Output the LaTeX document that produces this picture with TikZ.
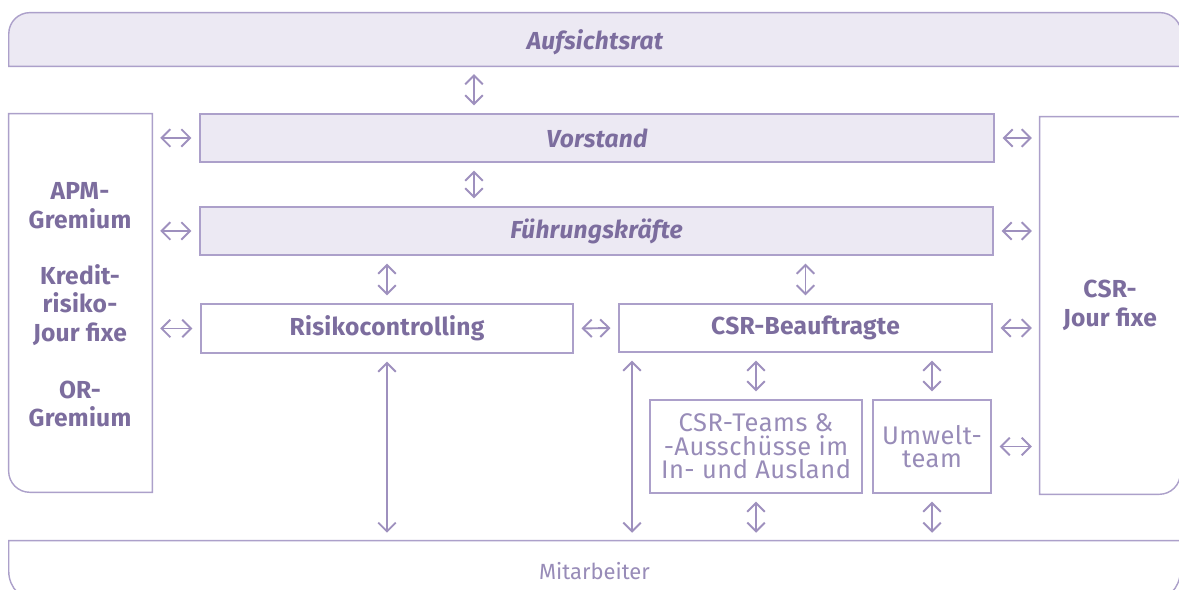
\documentclass[tikz,border=0pt]{standalone}
\usepackage{fontspec}
\setmainfont{Fira Sans}
\newfontfamily\widefont[LetterSpace=1]{Fira Sans}
\newfontfamily\airyfont[LetterSpace=2]{Fira Sans}
\usetikzlibrary{positioning, arrows.meta, backgrounds}

\definecolor{lila}{RGB}{124,109,158}
\definecolor{lilaline}{RGB}{172,160,202}
\definecolor{lilafill}{RGB}{236,233,243}
\definecolor{lilatext}{RGB}{152,140,184}
\definecolor{lilaarrow}{RGB}{158,144,190}

\newcommand{\boldfont}{\widefont\fontsize{14}{16.4}\selectfont\bfseries}
\newcommand{\itbfont}{\widefont\fontsize{14}{16.4}\selectfont\bfseries\itshape}
\newcommand{\plainfont}{\airyfont\fontsize{14.5}{13.4}\selectfont}

\begin{document}
\begin{tikzpicture}[x=0.02cm, y=0.02cm,
  frame/.style={rectangle, inner sep=0pt, text=lila, font=\boldfont, align=center},
  box/.style={frame, draw=lilaline, line width=0.8pt},
  bar/.style={box, fill=lilafill, font=\itbfont},
  softbox/.style={box, text=lilatext, font=\plainfont},
  outline/.style={draw=lilaline, line width=0.8pt},
  arr/.style={draw=lilaarrow, line width=1.1pt,
    {Straight Barb[length=5pt,width=10pt]}-{Straight Barb[length=5pt,width=10pt]},
    shorten <=4.5pt, shorten >=4.5pt}]
\useasboundingbox (0,0) rectangle (1179,590);
\clip (0,0) rectangle (1179,590);

% top and bottom bands
\node[frame, font=\itbfont, text height=14.6pt, minimum width=23.44cm, minimum height=1.06cm] (auf) at (595,550.5) {Aufsichtsrat};
\node[frame, text=lilatext, font=\fontsize{12.5}{15}\selectfont, minimum width=23.42cm, minimum height=1.2cm] (mit) at (594.5,19) {Mitarbeiter};

% side panels
\node[frame, minimum width=2.86cm, minimum height=7.56cm] (gremien) at (80.5,287) {};
\node[frame, minimum width=2.8cm, minimum height=7.54cm] (csrj) at (1110,284.5) {CSR-\\Jour fixe};
\node[frame] (apm) at (80,384) {APM-\\Gremium};
\node[frame] (kredit) at (80,285) {Kredit-\\risiko-\\Jour fixe};
\node[frame] (orgremium) at (80,186) {OR-\\Gremium};

% middle boxes
\node[bar, minimum width=15.88cm, minimum height=0.96cm] (vor) at (597,452) {Vorstand};
\node[bar, minimum width=15.86cm, minimum height=0.96cm] (fue) at (596.5,359) {Führungskräfte};
\node[box, minimum width=7.44cm, minimum height=0.98cm] (risk) at (387,261.5) {Risikocontrolling};
\node[box, minimum width=7.46cm, minimum height=0.96cm] (csrb) at (805.5,262) {CSR-Beauftragte};
\node[softbox, minimum width=4.24cm, minimum height=1.86cm] (teams) at (756,143.5) {CSR-Teams \&\\-Ausschüsse im\\In- und Ausland};
\node[softbox, minimum width=2.36cm, minimum height=1.86cm] (umwelt) at (932,143.5) {Umwelt-\\team};

\begin{scope}[on background layer]
\fill[white] (0,0) rectangle (1179,590);
\draw[outline, fill=lilafill] (auf.south west) -- ([yshift=-12pt]auf.north west)
  arc[start angle=180, end angle=90, radius=12pt] -- ([xshift=-12pt]auf.north east)
  arc[start angle=90, end angle=0, radius=12pt] -- (auf.south east) -- cycle;
\draw[outline] (mit.north west) -- ([yshift=17pt]mit.south west)
  arc[start angle=180, end angle=270, radius=17pt] -- ([xshift=-17pt]mit.south east)
  arc[start angle=270, end angle=360, radius=17pt] -- (mit.north east) -- cycle;
\draw[outline] (gremien.north west) -- ([yshift=12pt]gremien.south west)
  arc[start angle=180, end angle=270, radius=12pt] -- (gremien.south east)
  -- (gremien.north east) -- cycle;
\draw[outline] (csrj.north west) -- (csrj.south west) -- ([xshift=-12pt]csrj.south east)
  arc[start angle=270, end angle=360, radius=12pt] -- (csrj.north east) -- cycle;
\end{scope}

\coordinate (ax) at (474,0);
\coordinate (bx) at (632,0);

% vertical connectors
\draw[arr] (auf.south -| ax) -- (vor.north -| ax);
\draw[arr] (vor.south -| ax) -- (fue.north -| ax);
\draw[arr] (fue.south -| risk) -- (risk.north);
\draw[arr] (fue.south -| csrb) -- (csrb.north);
\draw[arr] (risk.south) -- (mit.north -| risk);
\draw[arr] (csrb.south -| bx) -- (mit.north -| bx);
\draw[arr] (csrb.south -| teams) -- (teams.north);
\draw[arr] (csrb.south -| umwelt) -- (umwelt.north);
\draw[arr] (teams.south) -- (mit.north -| teams);
\draw[arr] (umwelt.south) -- (mit.north -| umwelt);

% horizontal connectors
\draw[arr] (gremien.east |- vor.west) -- (vor.west);
\draw[arr] (gremien.east |- fue.west) -- (fue.west);
\draw[arr] (gremien.east |- risk.west) -- (risk.west);
\draw[arr] (risk.east) -- (csrb.west);
\draw[arr] (vor.east) -- (csrj.west |- vor.east);
\draw[arr] (fue.east) -- (csrj.west |- fue.east);
\draw[arr] (csrb.east) -- (csrj.west |- csrb.east);
\draw[arr] (umwelt.east) -- (csrj.west |- umwelt.east);
\end{tikzpicture}
\end{document}
